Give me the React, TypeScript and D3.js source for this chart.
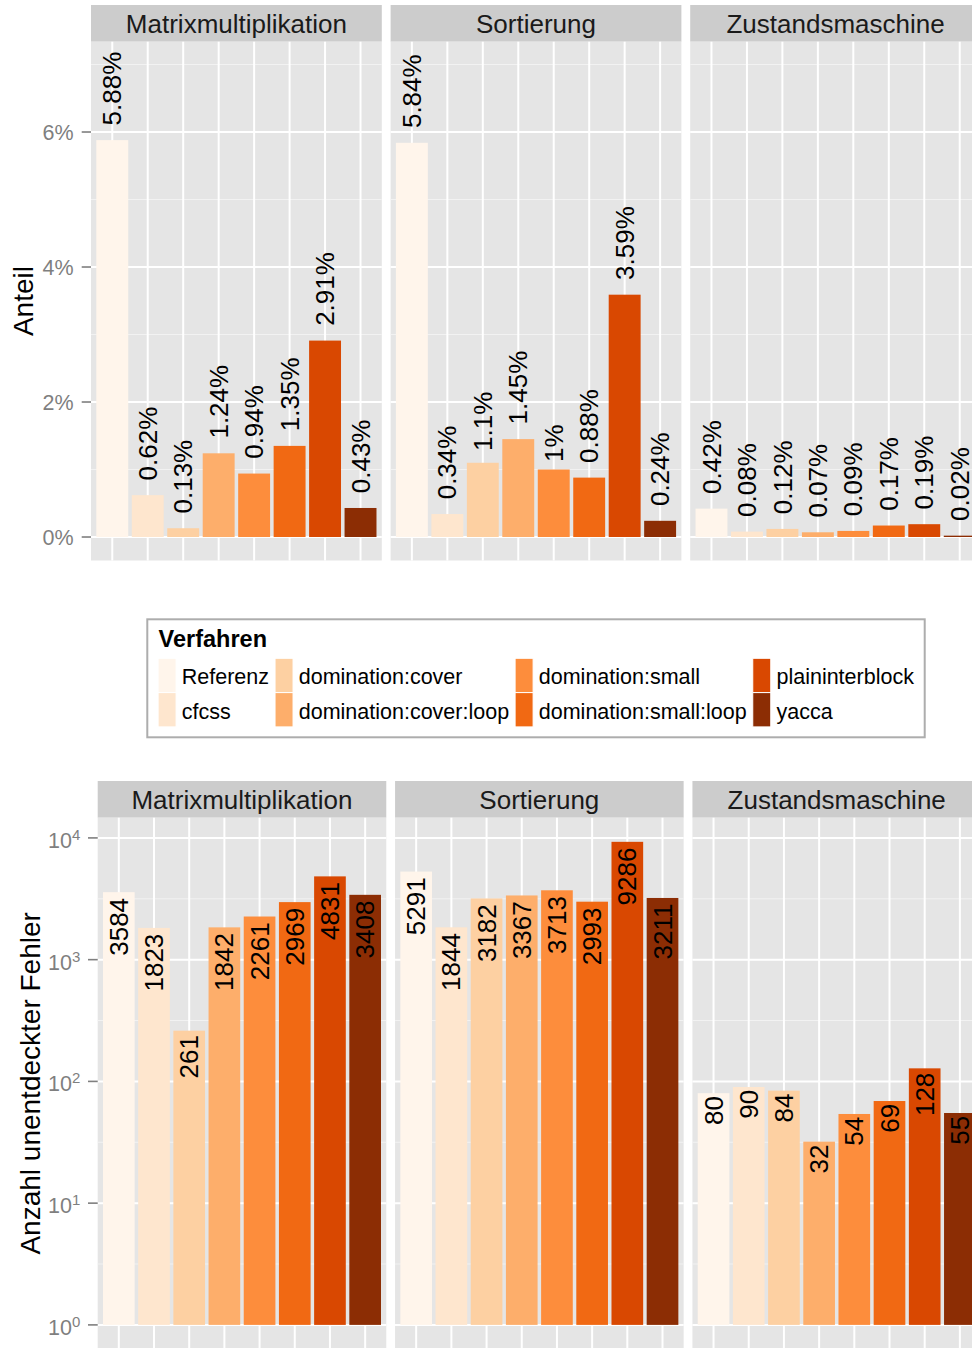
import React, { useEffect, useRef } from 'react';
import * as d3 from 'd3';

const FONT = "'Liberation Sans', Arial, Helvetica, sans-serif";

const methods = [
  'Referenz',
  'cfcss',
  'domination:cover',
  'domination:cover:loop',
  'domination:small',
  'domination:small:loop',
  'plaininterblock',
  'yacca',
];
const programs = ['Matrixmultiplikation', 'Sortierung', 'Zustandsmaschine'];

// Anteil unentdeckter Fehler (in %) je Programm und Verfahren
const shareMatrix = [5.88, 0.62, 0.13, 1.24, 0.94, 1.35, 2.91, 0.43];
const shareSort = [5.84, 0.34, 1.1, 1.45, 1, 0.88, 3.59, 0.24];
const shareState = [0.42, 0.08, 0.12, 0.07, 0.09, 0.17, 0.19, 0.02];

// Anzahl unentdeckter Fehler je Programm und Verfahren
const countMatrix = [3584, 1823, 261, 1842, 2261, 2969, 4831, 3408];
const countSort = [5291, 1844, 3182, 3367, 3713, 2993, 9286, 3211];
const countState = [80, 90, 84, 32, 54, 69, 128, 55];

const shareTicks = [0, 2, 4, 6];
const shareMinorTicks = [1, 3, 5, 7];
const countExponents = [0, 1, 2, 3, 4];
const countMinorExponents = [0.5, 1.5, 2.5, 3.5];

const legendTitle = 'Verfahren';

type Sel = d3.Selection<SVGGElement, unknown, null, undefined>;

const GREY50 = '#7f7f7f';
const PANEL_BG = '#e5e5e5';
const STRIP_BG = '#cccccc';
const MINOR = '#f2f2f2';

function facetLayout(left: number, right: number, gap: number) {
  const w = (right - left - gap * (programs.length - 1)) / programs.length;
  return programs.map((name, i) => ({ name, x0: left + i * (w + gap), w }));
}

function drawFacets(
  root: Sel,
  opts: {
    left: number;
    right: number;
    gap: number;
    stripTop: number;
    panelTop: number;
    panelBottom: number;
    y: (v: number) => number;
    baseValue: number;
    majorY: number[];
    minorY: number[];
    sets: number[][];
    colour: d3.ScaleOrdinal<string, string>;
    label: (v: number) => string;
    labelInside: boolean;
  }
) {
  const panels = facetLayout(opts.left, opts.right, opts.gap);
  panels.forEach((p, i) => {
    const g = root.append('g');
    const x = d3
      .scalePoint<string>()
      .domain(methods)
      .range([p.x0, p.x0 + p.w])
      .padding(0.6);
    const bw = x.step() * 0.9;

    // strip
    g.append('rect')
      .attr('x', p.x0)
      .attr('y', opts.stripTop)
      .attr('width', p.w)
      .attr('height', opts.panelTop - opts.stripTop)
      .attr('fill', STRIP_BG);
    g.append('text')
      .attr('x', p.x0 + p.w / 2)
      .attr('y', (opts.stripTop + opts.panelTop) / 2 + 0.8)
      .attr('dy', '0.35em')
      .attr('text-anchor', 'middle')
      .attr('font-size', 26)
      .attr('fill', '#1a1a1a')
      .text(p.name);

    // panel background
    g.append('rect')
      .attr('x', p.x0)
      .attr('y', opts.panelTop)
      .attr('width', p.w)
      .attr('height', opts.panelBottom - opts.panelTop)
      .attr('fill', PANEL_BG);

    // grid
    g.selectAll(null)
      .data(opts.minorY)
      .enter()
      .append('line')
      .attr('x1', p.x0)
      .attr('x2', p.x0 + p.w)
      .attr('y1', (d) => opts.y(d))
      .attr('y2', (d) => opts.y(d))
      .attr('stroke', MINOR)
      .attr('stroke-width', 1);
    g.selectAll(null)
      .data(opts.majorY)
      .enter()
      .append('line')
      .attr('x1', p.x0)
      .attr('x2', p.x0 + p.w)
      .attr('y1', (d) => opts.y(d))
      .attr('y2', (d) => opts.y(d))
      .attr('stroke', '#fff')
      .attr('stroke-width', 2);
    g.selectAll(null)
      .data(methods)
      .enter()
      .append('line')
      .attr('x1', (d) => x(d)!)
      .attr('x2', (d) => x(d)!)
      .attr('y1', opts.panelTop)
      .attr('y2', opts.panelBottom)
      .attr('stroke', '#fff')
      .attr('stroke-width', 2);

    const values = opts.sets[i];
    const y0 = opts.y(opts.baseValue);

    // bars
    g.selectAll(null)
      .data(values)
      .enter()
      .append('rect')
      .attr('x', (_, j) => x(methods[j])! - bw / 2)
      .attr('width', bw)
      .attr('y', (d) => Math.min(opts.y(d), y0))
      .attr('height', (d) => Math.abs(y0 - opts.y(d)))
      .attr('fill', (_, j) => opts.colour(methods[j]));

    // value labels, rotated
    values.forEach((v, j) => {
      const t = g
        .append('text')
        .attr('transform', `translate(${x(methods[j])},${opts.y(v)}) rotate(-90)`)
        .attr('dy', '0.35em')
        .attr('font-size', 26)
        .attr('fill', '#000')
        .text(opts.label(v));
      const len = (t.node() as SVGTextElement).getComputedTextLength();
      if (opts.labelInside) {
        t.attr('text-anchor', 'end').attr('x', -0.1 * len);
      } else {
        t.attr('text-anchor', 'start').attr('x', 0.2 * len);
      }
    });
  });
}

function draw(svgEl: SVGSVGElement) {
  const svg = d3.select(svgEl);
  svg.selectAll('*').remove();
  const root = svg.append('g') as unknown as Sel;

  const colour = d3
    .scaleOrdinal<string, string>()
    .domain(methods)
    .range(d3.schemeOranges[8] as string[]);

  // ---------- Anteil ----------
  const topLeft = 91;
  const plotRight = 981;
  const yShare = d3.scaleLinear().domain([-0.348, 7.338]).range([560.5, 41.7]);

  drawFacets(root, {
    left: topLeft,
    right: plotRight,
    gap: 8.8,
    stripTop: 5,
    panelTop: 41.7,
    panelBottom: 560.5,
    y: yShare,
    baseValue: 0,
    majorY: shareTicks,
    minorY: shareMinorTicks,
    sets: [shareMatrix, shareSort, shareState],
    colour,
    label: (v) => `${v}%`,
    labelInside: false,
  });

  const yAxisTop = root.append('g');
  shareTicks.forEach((t) => {
    yAxisTop
      .append('line')
      .attr('x1', topLeft - 9.3)
      .attr('x2', topLeft)
      .attr('y1', yShare(t))
      .attr('y2', yShare(t))
      .attr('stroke', GREY50)
      .attr('stroke-width', 1.6);
    yAxisTop
      .append('text')
      .attr('x', topLeft - 17.4)
      .attr('y', yShare(t))
      .attr('dy', '0.35em')
      .attr('text-anchor', 'end')
      .attr('font-size', 21.5)
      .attr('fill', GREY50)
      .text(`${t}%`);
  });
  root
    .append('text')
    .attr('transform', `translate(23.5,${(41.7 + 560.5) / 2}) rotate(-90)`)
    .attr('dy', '0.35em')
    .attr('text-anchor', 'middle')
    .attr('font-size', 28)
    .attr('fill', '#000')
    .text('Anteil');

  // ---------- Legende ----------
  const legend = root.append('g');
  const labelSize = 21.5;
  const keyW = 18;
  const keyH = 34.3;
  const textGap = 5.7;
  const colGap = 6;
  const pad = 10.8;
  const rows = 2;
  const cols = Math.ceil(methods.length / rows);

  const widths = methods.map((m) => {
    const t = legend.append('text').attr('font-size', labelSize).text(m);
    const w = (t.node() as SVGTextElement).getComputedTextLength();
    t.remove();
    return w;
  });
  const colWidths = d3.range(cols).map((c) =>
    d3.max(d3.range(rows).map((r) => widths[c * rows + r] ?? 0))!
  );
  const colAdv = colWidths.map((w) => keyW + textGap + w);
  const contentW = d3.sum(colAdv) + colGap * (cols - 1);
  const boxW = contentW + 2 * pad;
  const boxH = 118;
  const centre = (topLeft + plotRight) / 2;
  const boxX = centre - boxW / 2;
  const boxY = 619.3;

  legend
    .append('rect')
    .attr('x', boxX)
    .attr('y', boxY)
    .attr('width', boxW)
    .attr('height', boxH)
    .attr('fill', '#fff')
    .attr('stroke', '#adadad')
    .attr('stroke-width', 2);
  legend
    .append('text')
    .attr('x', boxX + pad + 0.5)
    .attr('y', boxY + 27.4)
    .attr('font-size', 23.5)
    .attr('font-weight', 'bold')
    .attr('fill', '#000')
    .text(legendTitle);

  const keysTop = boxY + 39;
  let cx = boxX + pad;
  for (let c = 0; c < cols; c++) {
    for (let r = 0; r < rows; r++) {
      const idx = c * rows + r;
      if (idx >= methods.length) continue;
      const ky = keysTop + r * keyH;
      legend
        .append('rect')
        .attr('x', cx)
        .attr('y', ky)
        .attr('width', keyW)
        .attr('height', keyH)
        .attr('fill', colour(methods[idx]))
        .attr('stroke', '#fff')
        .attr('stroke-width', 1);
      legend
        .append('text')
        .attr('x', cx + keyW + textGap)
        .attr('y', ky + keyH / 2 + 1.5)
        .attr('dy', '0.35em')
        .attr('font-size', labelSize)
        .attr('fill', '#000')
        .text(methods[idx]);
    }
    cx += colAdv[c] + colGap;
  }

  // ---------- Anzahl ----------
  const botLeft = 97.7;
  const yCount = d3
    .scaleLog()
    .domain([Math.pow(10, -0.198), Math.pow(10, 4.166)])
    .range([1349, 817.7]);

  drawFacets(root, {
    left: botLeft,
    right: plotRight,
    gap: 8.8,
    stripTop: 781,
    panelTop: 817.7,
    panelBottom: 1349,
    y: yCount,
    baseValue: 1,
    majorY: countExponents.map((e) => Math.pow(10, e)),
    minorY: countMinorExponents.map((e) => Math.pow(10, e)),
    sets: [countMatrix, countSort, countState],
    colour,
    label: (v) => `${v}`,
    labelInside: true,
  });

  const yAxisBot = root.append('g');
  countExponents.forEach((e) => {
    const yy = yCount(Math.pow(10, e));
    yAxisBot
      .append('line')
      .attr('x1', botLeft - 9.7)
      .attr('x2', botLeft)
      .attr('y1', yy)
      .attr('y2', yy)
      .attr('stroke', GREY50)
      .attr('stroke-width', 1.6);
    const t = yAxisBot
      .append('text')
      .attr('x', botLeft - 17.4)
      .attr('y', yy + 10)
      .attr('text-anchor', 'end')
      .attr('font-size', 21.5)
      .attr('fill', GREY50);
    t.append('tspan').text('10');
    t.append('tspan').attr('dy', -8).attr('font-size', 15).text(`${e}`);
  });
  root
    .append('text')
    .attr('transform', `translate(30,${(817.7 + 1349) / 2}) rotate(-90)`)
    .attr('dy', '0.35em')
    .attr('text-anchor', 'middle')
    .attr('font-size', 28)
    .attr('fill', '#000')
    .text('Anzahl unentdeckter Fehler');
}

export default function App() {
  const ref = useRef<SVGSVGElement>(null);
  useEffect(() => {
    if (ref.current) draw(ref.current);
  }, []);
  return (
    <svg
      ref={ref}
      width={972}
      height={1348}
      fontFamily={FONT}
      style={{ position: 'absolute', left: 0, top: 0, background: '#fff' }}
    />
  );
}
